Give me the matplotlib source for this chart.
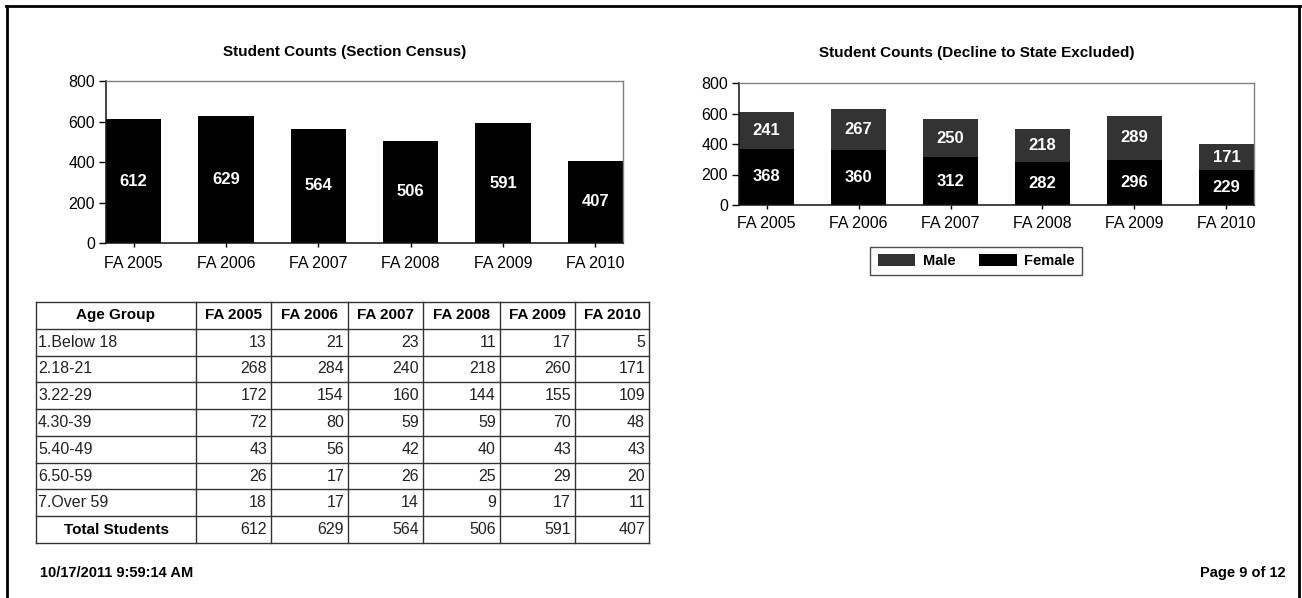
import matplotlib
matplotlib.use("Agg")
import matplotlib.pyplot as plt
from matplotlib.patches import Patch
import numpy as np

plt.rcParams['font.family'] = ['Liberation Sans', 'DejaVu Sans']

# ---- data ----
terms = ['FA 2005', 'FA 2006', 'FA 2007', 'FA 2008', 'FA 2009', 'FA 2010']
census_counts = [612, 629, 564, 506, 591, 407]
female_counts = [368, 360, 312, 282, 296, 229]
male_counts = [241, 267, 250, 218, 289, 171]

age_groups = ['1.Below 18', '2.18-21', '3.22-29', '4.30-39', '5.40-49', '6.50-59', '7.Over 59']
age_counts = [
    [13, 21, 23, 11, 17, 5],
    [268, 284, 240, 218, 260, 171],
    [172, 154, 160, 144, 155, 109],
    [72, 80, 59, 59, 70, 48],
    [43, 56, 42, 40, 43, 43],
    [26, 17, 26, 25, 29, 20],
    [18, 17, 14, 9, 17, 11],
]
total_label = 'Total Students'
report_stamp = '10/17/2011 9:59:14 AM'
page_label = 'Page 9 of 12'

W, H = 1302, 598
fig = plt.figure(figsize=(W / 100, H / 100), dpi=100)
fig.patch.set_facecolor('white')


def px_axes(left, top, right, bottom, **kw):
    return fig.add_axes([left / W, 1 - bottom / H, (right - left) / W, (bottom - top) / H], **kw)


def style_bar_axes(ax, xpad):
    ax.set_ylim(0, 800)
    ax.set_yticks([0, 200, 400, 600, 800])
    ax.set_xlim(-0.3, len(terms) - 0.7)
    ax.set_xticks(np.arange(len(terms)))
    ax.set_xticklabels(terms)
    for s in ['top', 'right']:
        ax.spines[s].set_color('#808080')
        ax.spines[s].set_linewidth(1.0)
    for s in ['left', 'bottom']:
        ax.spines[s].set_color('#111111')
        ax.spines[s].set_linewidth(1.1)
    ax.tick_params(axis='y', length=5, width=1, labelsize=11.5, pad=3)
    ax.tick_params(axis='x', length=3, width=1, labelsize=11.5, pad=xpad)


x = np.arange(len(terms))
bar_w = 0.6
male_c = '#333333'

# left chart: section census totals
ax1 = px_axes(106, 81, 623, 243)
ax1.bar(x, census_counts, width=bar_w, color='black', zorder=2)
for xi, v in zip(x, census_counts):
    ax1.text(xi, v / 2, str(v), ha='center', va='center', color='white',
             fontsize=12, fontweight='bold', zorder=3)
style_bar_axes(ax1, 6)
fig.text(345 / W, 1 - 52 / H, 'Student Counts (Section Census)', ha='center', va='center',
         fontsize=11, fontweight='bold')

# right chart: stacked female / male
ax2 = px_axes(739, 83, 1254, 205)
ax2.bar(x, female_counts, width=bar_w, color='black', zorder=2, label='Female')
ax2.bar(x, male_counts, width=bar_w, bottom=female_counts, color=male_c, zorder=2, label='Male')
for xi, f, m in zip(x, female_counts, male_counts):
    ax2.text(xi, f / 2, str(f), ha='center', va='center', color='white',
             fontsize=12, fontweight='bold', zorder=3)
    ax2.text(xi, f + m / 2, str(m), ha='center', va='center', color='white',
             fontsize=12, fontweight='bold', zorder=3)
style_bar_axes(ax2, 5)
fig.text(977 / W, 1 - 53 / H, 'Student Counts (Decline to State Excluded)', ha='center', va='center',
         fontsize=11, fontweight='bold')

handles = [Patch(facecolor=male_c, edgecolor='none', label='Male'),
           Patch(facecolor='black', edgecolor='none', label='Female')]
leg = fig.legend(handles=handles, loc='center', bbox_to_anchor=(976 / W, 1 - 261 / H), ncol=2,
                 frameon=True, fancybox=False, edgecolor='#222222', fontsize=10.5,
                 handlelength=2.6, handleheight=0.8, columnspacing=1.6, borderpad=0.5,
                 handletextpad=0.5)
leg.get_frame().set_linewidth(1.0)
for t in leg.get_texts():
    t.set_fontweight('bold')

# page overlay in pixel coordinates: frame, table, footer
pg = fig.add_axes([0, 0, 1, 1], zorder=-1)
pg.set_xlim(0, W)
pg.set_ylim(H, 0)
pg.axis('off')
pg.plot([7, 7], [H, 6], color='black', lw=2)
pg.plot([6, 1300], [6, 6], color='black', lw=2)
pg.plot([1299, 1299], [6, H], color='black', lw=2)

col_edges = [36, 196, 271, 348, 423, 500, 575, 649]
row_edges = np.linspace(302, 543, len(age_groups) + 3)
grid_c = '#333333'
for cx in col_edges:
    pg.plot([cx, cx], [row_edges[0], row_edges[-1]], color=grid_c, lw=1.0)
for ry in row_edges:
    pg.plot([col_edges[0], col_edges[-1]], [ry, ry], color=grid_c, lw=1.0)


def row_mid(i):
    return (row_edges[i] + row_edges[i + 1]) / 2


hfs, bfs = 11, 11.5
pg.text((col_edges[0] + col_edges[1]) / 2, row_mid(0), 'Age Group', ha='center', va='center',
        fontsize=hfs, fontweight='bold')
for j, t in enumerate(terms):
    pg.text((col_edges[j + 1] + col_edges[j + 2]) / 2, row_mid(0), t, ha='center', va='center',
            fontsize=hfs, fontweight='bold')
for i, (g, vals) in enumerate(zip(age_groups, age_counts)):
    pg.text(col_edges[0] + 2, row_mid(i + 1), g, ha='left', va='center', fontsize=bfs, color='#222222')
    for j, v in enumerate(vals):
        pg.text(col_edges[j + 2] - 4, row_mid(i + 1), str(v), ha='right', va='center',
                fontsize=bfs, color='#222222')
last = len(age_groups) + 1
pg.text((col_edges[0] + col_edges[1]) / 2, row_mid(last), total_label, ha='center', va='center',
        fontsize=hfs, fontweight='bold')
for j in range(len(terms)):
    col_total = sum(row[j] for row in age_counts)
    pg.text(col_edges[j + 2] - 4, row_mid(last), str(col_total), ha='right', va='center',
            fontsize=bfs, color='#222222')

pg.text(40, 573, report_stamp, ha='left', va='center', fontsize=10.5, fontweight='bold')
pg.text(1286, 573, page_label, ha='right', va='center', fontsize=10.5, fontweight='bold')

fig.savefig('out.png', dpi=100, facecolor='white')
